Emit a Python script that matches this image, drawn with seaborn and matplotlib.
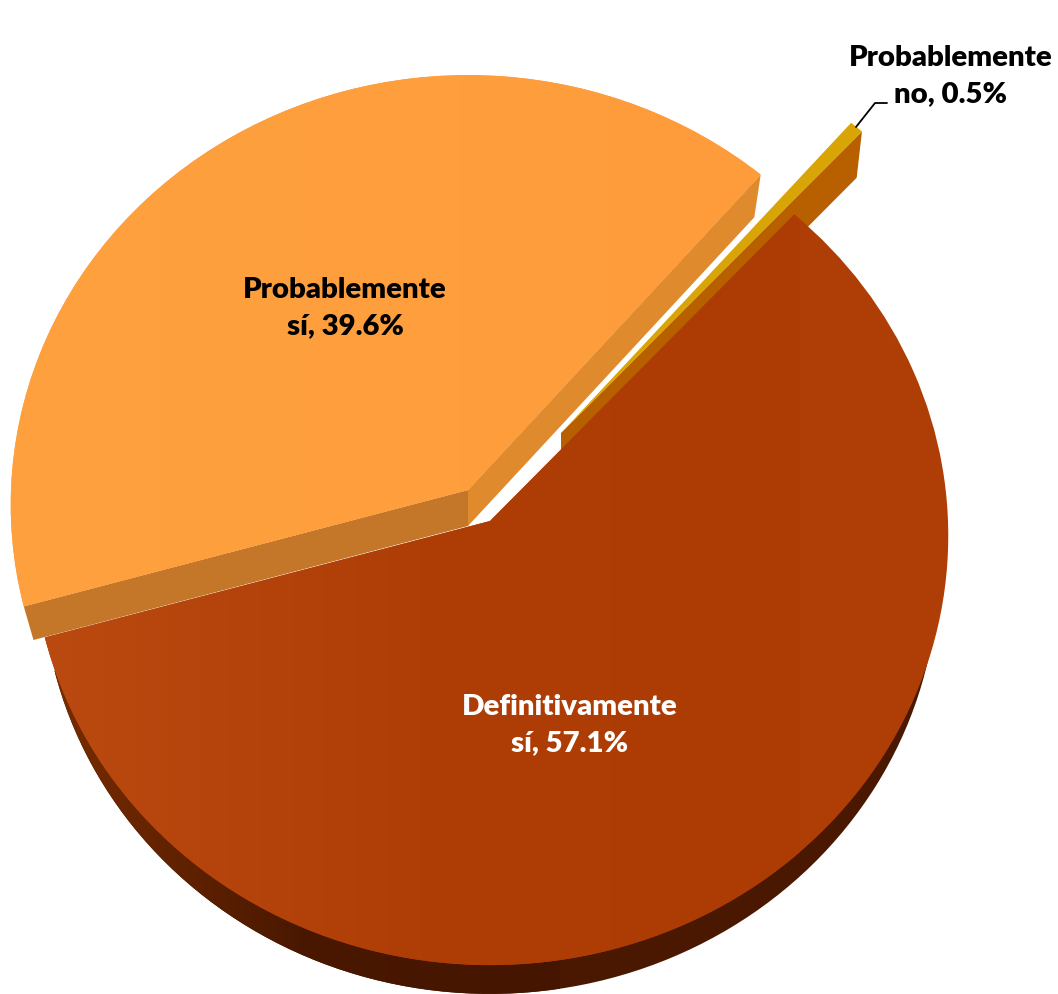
import numpy as np
import matplotlib
matplotlib.use("Agg")
import matplotlib.pyplot as plt
from matplotlib.transforms import Transform
import seaborn as sns

# data, in pie order going counter clockwise from the start angle
categories = ["Definitivamente", "Probablemente no", "Probablemente sí"]
values = [57.1, 0.5, 39.6]
label_texts = ["Definitivamente\nsí, 57.1%", "Probablemente\nno, 0.5%", "Probablemente\nsí, 39.6%"]

top_colors = sns.color_palette(["#AE3E06", "#D9A406", "#FE9C3B"])
START_ANGLE = 195.6


class DiscProjection(Transform):
    """Unit disc seen from above with a little perspective, to pixel coords."""
    input_dims = 2
    output_dims = 2
    is_separable = False
    has_inverse = False

    def __init__(self, cx, cy, a, b, k=0.034):
        super().__init__()
        self.cx, self.cy, self.a, self.b, self.k = cx, cy, a, b, k

    def transform_non_affine(self, values):
        xy = np.asarray(values, dtype=float)
        w = 1 + self.k * xy[:, 1]
        return np.column_stack([self.cx + self.a * xy[:, 0] / w, self.cy - self.b * xy[:, 1] / w])


def disc_point(proj, angle):
    t = np.radians(angle)
    return proj.transform_non_affine(np.array([[np.cos(t), np.sin(t)]]))[0]


def wall(ax, top_proj, low_proj, angle, color, zorder):
    # flat cut face between the apex and the rim at one angle
    pts = [disc_point(top_proj, angle), [top_proj.cx, top_proj.cy], [low_proj.cx, low_proj.cy], disc_point(low_proj, angle)]
    pts = np.array(pts)
    ax.fill(pts[:, 0], pts[:, 1], color=color, lw=0, zorder=zorder)


def gradient(ax, patch, colors, x0=0, x1=1058):
    cmap = sns.blend_palette(colors, as_cmap=True)
    im = ax.imshow(np.linspace(0, 1, 256).reshape(1, -1), cmap=cmap, extent=(x0, x1, 994, 0), aspect="auto", zorder=patch.get_zorder())
    im.set_clip_path(patch)


sns.set_theme(style="white")
plt.rcParams["font.family"] = ["Lato", "DejaVu Sans"]

fig = plt.figure(figsize=(10.58, 9.94), dpi=100)
ax = fig.add_axes([0, 0, 1, 1])

tops = {
    0: DiscProjection(490, 521, 458, 429),
    1: DiscProjection(561, 433, 453, 422),
    2: DiscProjection(468, 490, 457, 429),
}
lows = {
    0: DiscProjection(490, 556, 448, 423),
    1: DiscProjection(561, 475, 445, 416),
    2: DiscProjection(468, 526, 447, 420),
}

# rim of the big slice, under everything else
rim, _ = ax.pie(values, startangle=START_ANGLE, colors=["#4A1800", "none", "none"], wedgeprops={"linewidth": 0, "zorder": 1})
wedges, _ = ax.pie(values, startangle=START_ANGLE, colors=top_colors, wedgeprops={"linewidth": 0, "zorder": 5})

for i, w in enumerate(wedges):
    w.set_transform(tops[i] + ax.transData)
    rim[i].set_transform(lows[i] + ax.transData)
wedges[1].set_zorder(3)
wedges[2].set_zorder(4)

# cut faces
wall(ax, tops[1], lows[1], wedges[1].theta1, "#B85F00", 2)
wall(ax, tops[2], lows[2], wedges[2].theta1, "#E08A2E", 3.5)
wall(ax, tops[2], lows[2], wedges[2].theta2, "#C47629", 3.6)

gradient(ax, rim[0], ["#7A2D00", "#4A1800", "#451500"], 40, 560)
gradient(ax, wedges[0], ["#BA4A10", "#AE3E06", "#AC3C04"], 40, 800)
gradient(ax, wedges[2], ["#FFA13F", "#FE9C3B"], 10, 760)

# leader line for the small slice
ax.plot([856, 875, 887], [127, 103, 103], color="black", lw=1.3, zorder=6)

label_xy = [(570, 725), (951, 76), (345, 308)]
label_colors = ["white", "black", "black"]
for txt, (x, y), col in zip(label_texts, label_xy, label_colors):
    ax.text(x, y, txt, color=col, fontsize=21.2, fontweight="heavy", ha="center", va="center", linespacing=1.5, zorder=7)

ax.set_aspect("auto")
ax.set_xlim(0, 1058)
ax.set_ylim(994, 0)
ax.axis("off")

fig.savefig("out.png", dpi=100)
